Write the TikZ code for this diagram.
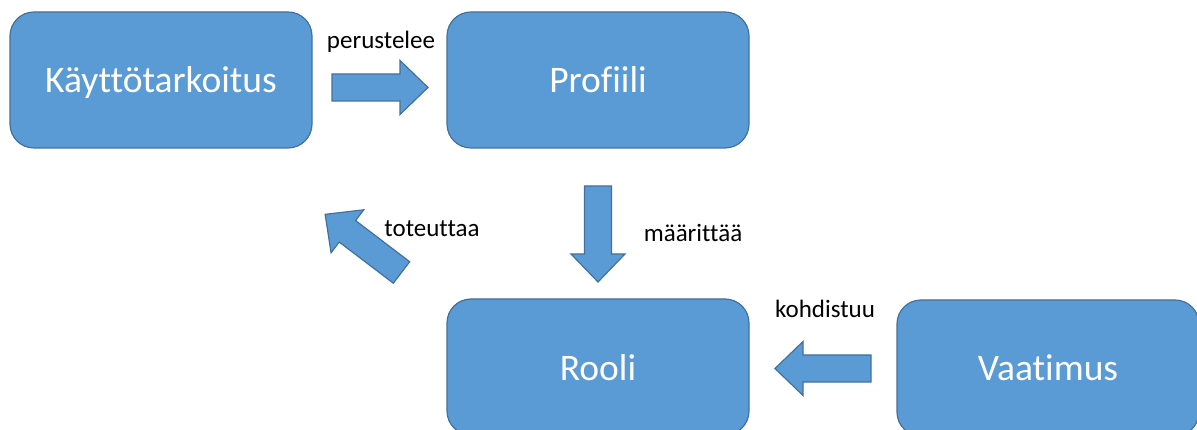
\documentclass[tikz,border=0pt]{standalone}
\usepackage{fontspec}
\setmainfont[Ligatures={NoCommon}]{Carlito}
\definecolor{boxfill}{HTML}{5B9BD5}
\definecolor{boxline}{HTML}{41719C}
\tikzset{
  box/.style={draw=boxline, line width=1.2pt, fill=boxfill, rounded corners=24pt,
    minimum width=302pt, minimum height=136pt, inner sep=0pt, text=white,
    text height=29pt, text depth=3pt,
    font=\fontsize{37.5}{42}\selectfont},
  lbl/.style={font=\fontsize{25}{28}\selectfont, inner sep=0pt, text=black, anchor=base},
  barrow/.style={draw=boxline, line width=1.2pt, fill=boxfill, line join=miter}
}
\newcommand{\blockarrow}[3]{%
  \begin{scope}[shift={#1}, rotate=#2]
    \draw[barrow] (0,-13.5) -- (68,-13.5) -- (68,-27) -- (96,0) -- (68,27) -- (68,13.5) -- (0,13.5) -- cycle;
    \coordinate (#3) at (48,0);
  \end{scope}}
\begin{document}
\begin{tikzpicture}[x=1pt,y=-1pt]
\useasboundingbox (0,0) rectangle (1197,430);
\clip (0,0) rectangle (1197,430);
\node[box] (kt) at (161,80) {Käyttötarkoitus};
\node[box] (pr) at (598,80) {Profiili};
\node[box] (ro) at (598,367) {Rooli};
\node[box] (va) at (1048,368) {Vaatimus};
\blockarrow{(332,87.5)}{0}{a1}
\blockarrow{(598,186)}{-90}{a2}
\blockarrow{(871,368.5)}{180}{a3}
\blockarrow{(401.5,272.5)}{142.7}{a4}
\node[lbl] (l1) at (381,48.3) {perustelee};
\node[lbl] (l2) at (693,241.7) {määrittää};
\node[lbl] (l3) at (825,317.3) {kohdistuu};
\node[lbl] (l4) at (432,236.7) {toteuttaa};
\end{tikzpicture}
\end{document}
